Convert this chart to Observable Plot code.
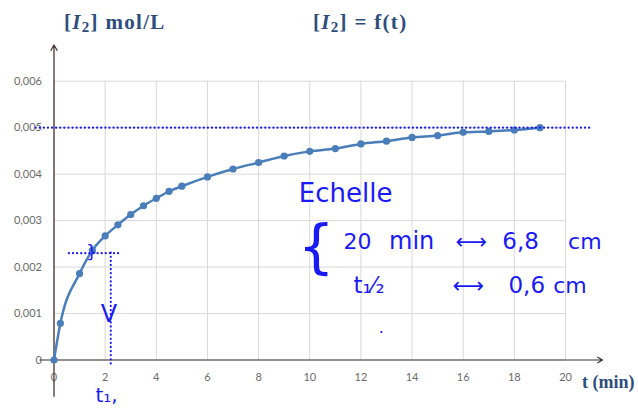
<!DOCTYPE html>
<html><head><meta charset="utf-8">
<script src="https://cdn.jsdelivr.net/npm/d3@7"></script>
<script src="https://cdn.jsdelivr.net/npm/@observablehq/plot@0.6"></script>
<style>
body{margin:0;background:#fff;}
#wrap{position:relative;width:638px;height:408px;overflow:hidden;}
.hdr{position:absolute;font:bold 21px "Liberation Serif","DejaVu Serif",serif;color:#2d4d7c;white-space:nowrap;letter-spacing:1.3px;}
.hdr sub{font-size:15px;vertical-align:-3px;}
</style>
</head><body>
<div id="wrap">
  <div class="hdr" style="left:64px;top:10px;">[<i>I</i><sub>2</sub>] mol/L</div>
  <div class="hdr" style="left:313px;top:10px;">[<i>I</i><sub>2</sub>] = f(t)</div>
</div>
<script>
// ---- data ----
const times = [0, 0.25, 1, 1.5, 2, 2.5, 3, 3.5, 4, 4.5, 5, 6, 7, 8, 9, 10, 11, 12, 13, 14, 15, 16, 17, 18, 19];
const conc  = [0, 0.00079, 0.00186, 0.00236, 0.00267, 0.00291, 0.00313, 0.00332, 0.00348, 0.00363, 0.00374,
               0.00394, 0.00411, 0.00425, 0.00439, 0.00449, 0.00455, 0.00465, 0.00471, 0.00479, 0.00483,
               0.00490, 0.00492, 0.00495, 0.00500];
const xTicks = [0, 2, 4, 6, 8, 10, 12, 14, 16, 18, 20];
const yTicks = [0, 0.001, 0.002, 0.003, 0.004, 0.005, 0.006];
const yTickLabels = ["0", "0,001", "0,002", "0,003", "0,004", "0,005", "0,006"];
const plateau = 0.005;      // final concentration
const halfConc = 0.0023;    // hand-drawn half level
const halfTime = 2.22;      // hand-drawn t1/2
const notesStart = [
  {t: 11.32, c: 0.00255, text: "20", size: 22},
  {t: 13.1,  c: 0.00255, text: "min", size: 24},
  {t: 15.7,  c: 0.00255, text: "⟷", size: 22},
  {t: 17.53, c: 0.00255, text: "6,8", size: 23},
  {t: 20.1,  c: 0.00255, text: "cm", size: 22},
  {t: 11.71, c: 0.00160, text: "t₁⁄₂", size: 23},
  {t: 15.58, c: 0.00160, text: "⟷", size: 22},
  {t: 17.77, c: 0.00160, text: "0,6", size: 23},
  {t: 19.52, c: 0.00160, text: "cm", size: 22},
  {t: 1.62,  c: -0.00077, text: "t₁,", size: 20}
];
const notesMiddle = [
  {t: 11.4,  c: 0.00358, text: "Echelle", size: 26},
  {t: 10.25, c: 0.00240, text: "{", size: 58},
  {t: 1.47,  c: 0.00232, text: "}", size: 18},
  {t: 2.15,  c: 0.00098, text: "V", size: 24},
  {t: 12.8,  c: 0.00058, text: "·", size: 16}
];

const rows = times.map((t, i) => ({t, c: conc[i]}));
const blue = "#1a1af5";
const curveCol = "#4a7ebb";
const hw = "'DejaVu Sans', sans-serif";

const chart = Plot.plot({
  width: 638, height: 408,
  marginLeft: 53.5, marginRight: 73, marginTop: 80.7, marginBottom: 48.5,
  x: {domain: [0, 20]},
  y: {domain: [0, 0.006]},
  style: {fontFamily: "Lato, 'Liberation Sans', sans-serif", background: "transparent", overflow: "visible"},
  marks: [
    Plot.gridX(xTicks, {stroke: "#d9d9d9", strokeOpacity: 1}),
    Plot.gridY(yTicks, {stroke: "#d9d9d9", strokeOpacity: 1}),
    Plot.axisX(xTicks, {tickSize: 0, tickPadding: 13, fontSize: 11, fill: "#6b6b6b", label: null, tickFormat: d => String(d)}),
    Plot.axisY(yTicks, {tickSize: 0, tickPadding: 12, fontSize: 11, fill: "#6b6b6b", label: null,
      tickFormat: d => yTickLabels[yTicks.indexOf(d)]}),
    // axes with arrows
    Plot.arrow([{x1: -0.55, y1: 0, x2: 21.45, y2: 0}], {x1: "x1", y1: "y1", x2: "x2", y2: "y2",
      stroke: "#3a3230", strokeWidth: 1.2, headLength: 7}),
    Plot.arrow([{x1: 0, y1: -0.00078, x2: 0, y2: 0.00678}], {x1: "x1", y1: "y1", x2: "x2", y2: "y2",
      stroke: "#4a3630", strokeWidth: 1.3, headLength: 7}),
    // data curve
    Plot.line(rows, {x: "t", y: "c", curve: "monotone-x", stroke: curveCol, strokeWidth: 2.5}),
    Plot.dot(rows, {x: "t", y: "c", r: 3.6, fill: curveCol, stroke: "none"}),
    // hand-drawn dotted guides
    Plot.ruleY([plateau], {x1: -0.7, x2: 21.05, stroke: blue, strokeWidth: 2.2, strokeDasharray: "0.1 4", strokeLinecap: "round"}),
    Plot.ruleY([halfConc], {x1: 0.6, x2: 2.58, stroke: blue, strokeWidth: 2.2, strokeDasharray: "0.1 4", strokeLinecap: "round"}),
    Plot.ruleX([halfTime], {y1: halfConc, y2: -0.00015, stroke: blue, strokeWidth: 2.2, strokeDasharray: "0.1 4", strokeLinecap: "round"}),
    // x label
    Plot.text(["t (min)"], {x: 20.65, y: -0.00048, text: d => d, textAnchor: "start", fontSize: 18, fontWeight: "bold",
      fontFamily: "'Liberation Serif', serif", fill: "#2d4d7c"}),
    // handwritten notes
    Plot.text(notesStart, {x: "t", y: "c", text: "text", fontSize: d => d.size,
      textAnchor: "start", fill: blue, fontFamily: hw}),
    Plot.text(notesMiddle, {x: "t", y: "c", text: "text", fontSize: d => d.size,
      textAnchor: "middle", fill: blue, fontFamily: hw})
  ]
});
chart.style.position = "absolute";
chart.style.left = "0";
chart.style.top = "0";
document.getElementById("wrap").prepend(chart);
</script>
</body></html>
